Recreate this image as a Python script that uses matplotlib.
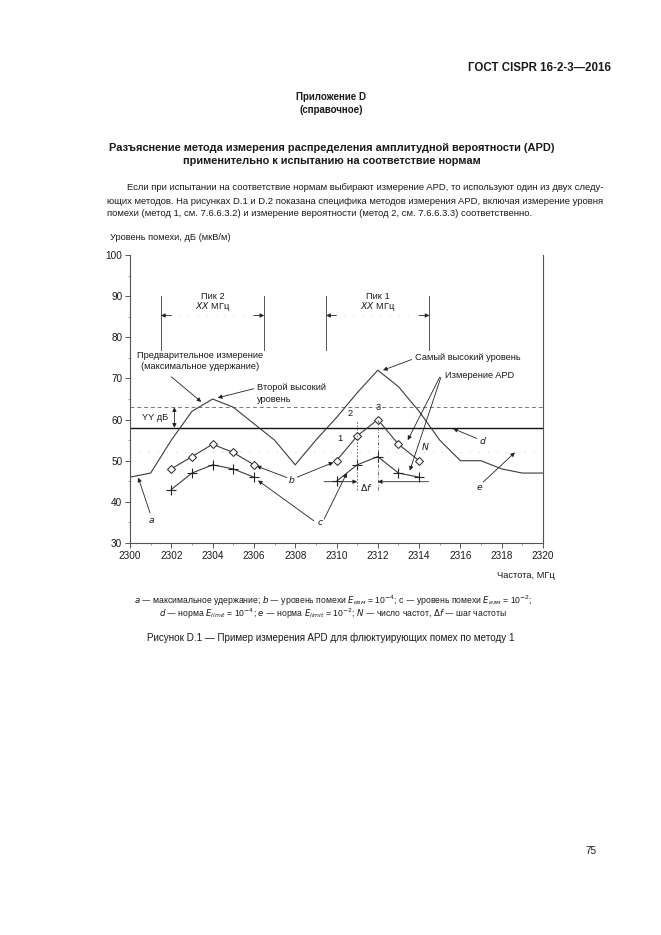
import matplotlib
matplotlib.use("Agg")
import matplotlib.pyplot as plt
from matplotlib.ticker import MultipleLocator

plt.rcParams['font.family'] = ['Liberation Sans', 'DejaVu Sans']

W, H = 661, 935

# ---------------- data ----------------
freq = list(range(2300, 2321))
max_hold = [46, 47, 55, 62, 65, 63, 59, 55, 49, 55, 60.5, 66.5, 72, 68, 62, 55, 50, 50, 48, 47, 47]

f_peak2 = [2302, 2303, 2304, 2305, 2306]
b_peak2 = [48, 51, 54, 52, 49]
c_peak2 = [43, 47, 49, 48, 46]

f_peak1 = [2310, 2311, 2312, 2313, 2314]
b_peak1 = [50, 56, 60, 54, 50]
c_peak1 = [45, 49, 51, 47, 46]

limit_d = 58
limit_upper = 63
limit_e = 52

xticks = list(range(2300, 2321, 2))
yticks = list(range(30, 101, 10))

# ---------------- figure ----------------
fig = plt.figure(figsize=(W / 100, H / 100), dpi=100)
fig.patch.set_facecolor('white')

def fx(px):
    return px / W

def fy(py):
    return 1 - py / H

TXT = '#1a1a1a'
LN = '#3a3a3a'
FS = 6.7

# page texts
fig.text(fx(611), fy(68), 'ГОСТ CISPR 16-2-3—2016', ha='right', va='center',
         fontsize=8.3, fontweight='bold', color=TXT)
fig.text(fx(331), fy(97), 'Приложение D', ha='center', va='center',
         fontsize=7, fontweight='bold', color=TXT)
fig.text(fx(331), fy(110), '(справочное)', ha='center', va='center',
         fontsize=7, fontweight='bold', color=TXT)
fig.text(fx(332), fy(148), 'Разъяснение метода измерения распределения амплитудной вероятности (APD)',
         ha='center', va='center', fontsize=7.9, fontweight='bold', color=TXT)
fig.text(fx(332), fy(161), 'применительно к испытанию на соответствие нормам',
         ha='center', va='center', fontsize=7.9, fontweight='bold', color=TXT)

para = [
    (127, 188, 'Если при испытании на соответствие нормам выбирают измерение APD, то используют один из двух следу-'),
    (107, 201, 'ющих методов. На рисунках D.1 и D.2 показана специфика методов измерения APD, включая измерение уровня'),
    (107, 213, 'помехи (метод 1, см. 7.6.6.3.2) и измерение вероятности (метод 2, см. 7.6.6.3.3) соответственно.'),
]
for x, y, t in para:
    fig.text(fx(x), fy(y), t, ha='left', va='center', fontsize=6.8, color=TXT)

cap1 = (r'$a$ — максимальное удержание; $b$ — уровень помехи $E_{изм}$ = 10$^{-4}$; '
        r'c — уровень помехи $E_{изм}$ = 10$^{-2}$;')
cap2 = (r'$d$ — норма $E_{limit}$ = 10$^{-4}$; $e$ — норма $E_{limit}$ = 10$^{-2}$; '
        r'$N$ — число частот, $\Delta f$ — шаг частоты')
fig.text(fx(333), fy(601), cap1, ha='center', va='center', fontsize=6.2, color=TXT)
fig.text(fx(333), fy(614), cap2, ha='center', va='center', fontsize=6.2, color=TXT)
fig.text(fx(331), fy(638), 'Рисунок D.1 — Пример измерения APD для флюктуирующих помех по методу 1',
         ha='center', va='center', fontsize=7.1, color=TXT)
fig.text(fx(597), fy(851), '75', ha='right', va='center', fontsize=7.2, color=TXT)

# ---------------- axes ----------------
ax = fig.add_axes([fx(130), fy(543), fx(543) - fx(130), fy(255) - fy(543)])
ax.set_xlim(2300, 2320)
ax.set_ylim(30, 100)
ax.spines['top'].set_visible(False)
for s in ['left', 'bottom', 'right']:
    ax.spines[s].set_color('#555555')
    ax.spines[s].set_linewidth(0.8)

ax.set_xticks(xticks)
ax.set_yticks(yticks)
ax.xaxis.set_minor_locator(MultipleLocator(1))
ax.yaxis.set_minor_locator(MultipleLocator(5))
ax.tick_params(axis='both', which='major', labelsize=7.2, colors='#555555',
               labelcolor=TXT, length=3.5, width=0.7, direction='out', pad=2)
ax.tick_params(axis='both', which='minor', length=1.5, width=0.5, colors='#777777',
               direction='out')
ax.tick_params(axis='y', right=False)

fig.text(fx(110), fy(238), 'Уровень помехи, дБ (мкВ/м)', ha='left', va='center',
         fontsize=FS, color=TXT)
fig.text(fx(555), fy(575), 'Частота, МГц', ha='right', va='center',
         fontsize=FS, color=TXT)

# reference lines
ax.axhline(limit_d, color='#111111', lw=1.0)
ax.axhline(limit_upper, color='#777777', lw=0.7, ls=(0, (4, 3)))
ax.axhline(limit_e, color='#b0b0b0', lw=0.6, ls=(0, (1, 10)))

# curves
ax.plot(freq, max_hold, color=LN, lw=0.8)
for f, b in [(f_peak2, b_peak2), (f_peak1, b_peak1)]:
    ax.plot(f, b, color=LN, lw=0.8, marker='D', ms=4.3, mfc='white', mec='#222222', mew=0.7)
for f, c in [(f_peak2, c_peak2), (f_peak1, c_peak1)]:
    ax.plot(f, c, color=LN, lw=0.8, marker='+', ms=6.5, mec='#222222', mew=0.8)

arr = dict(arrowstyle='-|>', lw=0.6, color='#222222', mutation_scale=6,
           shrinkA=0, shrinkB=0)

# peak brackets
for x0, x1, lab in [(2301.5, 2306.5, 'Пик 2'), (2309.5, 2314.5, 'Пик 1')]:
    for xv in (x0, x1):
        ax.plot([xv, xv], [77, 90], color='#555555', lw=0.7)
    ax.plot([x0, x1], [85.3, 85.3], color='#999999', lw=0.5, ls=(0, (1, 12)))
    ax.annotate('', xy=(x0, 85.3), xytext=(x0 + 0.5, 85.3), arrowprops=arr)
    ax.annotate('', xy=(x1, 85.3), xytext=(x1 - 0.5, 85.3), arrowprops=arr)
    xc = (x0 + x1) / 2
    ax.text(xc, 89.9, lab, ha='center', va='center', fontsize=FS, color=TXT)
    ax.text(xc, 87.4, r'$XX$ МГц', ha='center', va='center', fontsize=FS, color=TXT)

# YY dB
ax.annotate('', xy=(2302.15, limit_upper), xytext=(2302.15, limit_d),
            arrowprops=dict(arrowstyle='<|-|>', lw=0.6, color='#222222',
                            mutation_scale=6, shrinkA=0, shrinkB=0))
ax.text(2301.85, 60.4, 'YY дБ', ha='right', va='center', fontsize=FS, color=TXT)

# delta f construction
ax.plot([2311, 2311], [43, 60], color='#555555', lw=0.6, ls=(0, (2, 2)))
ax.plot([2312, 2312], [43, 60], color='#555555', lw=0.6, ls=(0, (4, 2, 1, 2)))
ax.annotate('', xy=(2311, 44.9), xytext=(2309.4, 44.9), arrowprops=arr)
ax.annotate('', xy=(2312, 44.9), xytext=(2314.45, 44.9), arrowprops=arr)
ax.text(2311.45, 43.6, r'$\Delta f$', ha='center', va='center', fontsize=FS, color=TXT)

ax.text(2310.14, 55.4, '1', ha='center', va='center', fontsize=FS, color=TXT)
ax.text(2310.65, 61.4, '2', ha='center', va='center', fontsize=FS, color=TXT)
ax.text(2312.0, 63.0, '3', ha='center', va='center', fontsize=FS, color=TXT)
ax.text(2314.29, 53.4, r'$N$', ha='center', va='center', fontsize=FS, color=TXT)

# annotations
ax.text(2303.4, 75.6, 'Предварительное измерение', ha='center', va='center', fontsize=FS, color=TXT)
ax.text(2303.4, 72.8, '(максимальное удержание)', ha='center', va='center', fontsize=FS, color=TXT)
ax.annotate('', xy=(2303.45, 64.3), xytext=(2302.0, 70.4), arrowprops=arr)

ax.text(2306.15, 67.9, 'Второй высокий', ha='left', va='center', fontsize=FS, color=TXT)
ax.text(2306.15, 64.9, 'уровень', ha='left', va='center', fontsize=FS, color=TXT)
ax.annotate('', xy=(2304.25, 65.3), xytext=(2306.0, 67.5), arrowprops=arr)

ax.text(2313.8, 75.1, 'Самый высокий уровень', ha='left', va='center', fontsize=FS, color=TXT)
ax.annotate('', xy=(2312.25, 72.0), xytext=(2313.64, 74.6), arrowprops=arr)

ax.text(2315.25, 70.7, 'Измерение APD', ha='left', va='center', fontsize=FS, color=TXT)
ax.annotate('', xy=(2313.45, 55.0), xytext=(2315.0, 70.3), arrowprops=arr)
ax.annotate('', xy=(2313.55, 47.6), xytext=(2315.05, 70.2), arrowprops=arr)

ax.text(2301.05, 35.4, r'$a$', ha='center', va='center', fontsize=FS, color=TXT)
ax.annotate('', xy=(2300.4, 45.9), xytext=(2300.97, 37.3), arrowprops=arr)

ax.text(2307.83, 45.4, r'$b$', ha='center', va='center', fontsize=FS, color=TXT)
ax.annotate('', xy=(2306.13, 48.7), xytext=(2307.6, 45.9), arrowprops=arr)
ax.annotate('', xy=(2309.85, 49.6), xytext=(2308.1, 46.0), arrowprops=arr)

ax.text(2309.2, 34.9, r'$c$', ha='center', va='center', fontsize=FS, color=TXT)
ax.annotate('', xy=(2306.2, 45.2), xytext=(2308.9, 35.4), arrowprops=arr)
ax.annotate('', xy=(2310.5, 47.0), xytext=(2309.4, 35.8), arrowprops=arr)

ax.text(2317.1, 54.8, r'$d$', ha='center', va='center', fontsize=FS, color=TXT)
ax.annotate('', xy=(2315.65, 57.8), xytext=(2316.8, 55.4), arrowprops=arr)

ax.text(2316.95, 43.5, r'$e$', ha='center', va='center', fontsize=FS, color=TXT)
ax.annotate('', xy=(2318.64, 52.0), xytext=(2317.1, 44.8), arrowprops=arr)

fig.savefig('out.png', dpi=100, facecolor='white')
